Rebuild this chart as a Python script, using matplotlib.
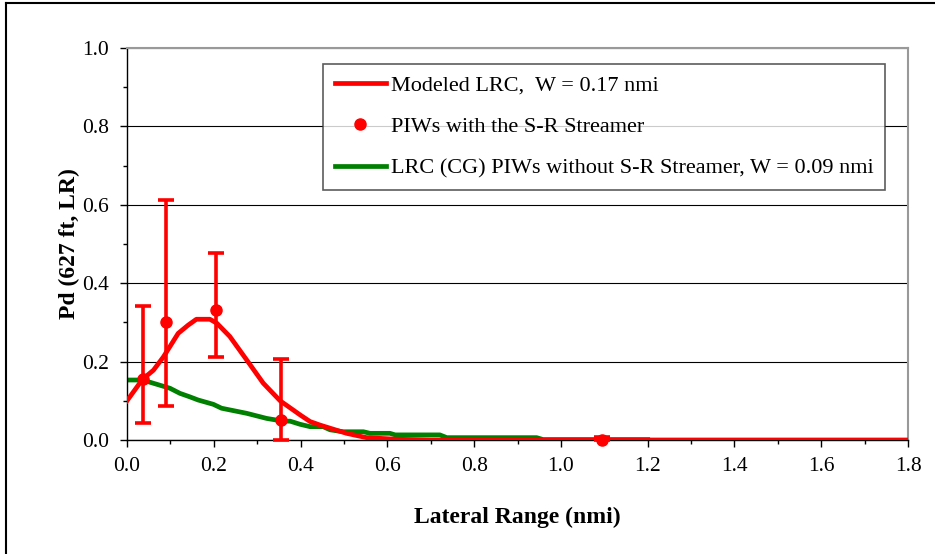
import numpy as np
import matplotlib.pyplot as plt
from matplotlib.lines import Line2D

plt.rcParams['font.family'] = ['Liberation Serif', 'DejaVu Serif']

# modeled lateral range curve (red)
model_x = [0.0, 0.036, 0.061, 0.084, 0.118, 0.141, 0.16, 0.191, 0.207, 0.237, 0.276,
           0.314, 0.353, 0.399, 0.422, 0.445, 0.506, 0.552, 0.62, 0.70, 1.8]
model_y = [0.10, 0.155, 0.178, 0.212, 0.272, 0.293, 0.308, 0.308, 0.298, 0.264, 0.204,
           0.145, 0.10, 0.064, 0.047, 0.038, 0.017, 0.006, 0.002, 0.0, 0.0]

# LRC (CG) without streamer (green)
cg_x = [0.0, 0.036, 0.099, 0.122, 0.145, 0.164, 0.199, 0.218, 0.276, 0.322, 0.36, 0.376,
        0.399, 0.422, 0.452, 0.468, 0.498, 0.545, 0.56, 0.606, 0.618, 0.721, 0.737,
        0.944, 0.959, 1.2]
cg_y = [0.153, 0.153, 0.132, 0.119, 0.11, 0.102, 0.091, 0.081, 0.068, 0.055, 0.048, 0.048,
        0.04, 0.034, 0.034, 0.026, 0.021, 0.021, 0.017, 0.017, 0.013, 0.013, 0.006,
        0.006, 0.001, 0.001]

# observed PIWs with streamer
obs_x = [0.036, 0.091, 0.205, 0.354, 1.094]
obs_y = [0.155, 0.30, 0.332, 0.051, 0.0]
obs_lo = [0.044, 0.087, 0.211, 0.0, 0.0]
obs_hi = [0.343, 0.612, 0.478, 0.206, 0.008]

fig = plt.figure(figsize=(9.35, 5.54), dpi=100)
ax = fig.add_axes([0.1358, 0.2058, 0.8354, 0.7076])

ax.plot(model_x, model_y, color='#ff0000', lw=3.4, solid_joinstyle='round', zorder=3)
ax.plot(cg_x, cg_y, color='#008000', lw=3.4, zorder=2)
yerr = [np.array(obs_y) - np.array(obs_lo), np.array(obs_hi) - np.array(obs_y)]
ax.errorbar(obs_x, obs_y, yerr=yerr, fmt='o', color='#ff0000', ms=8,
            elinewidth=2.6, capsize=6, capthick=2.6, zorder=4, clip_on=False)

ax.set_xlim(0, 1.8)
ax.set_ylim(0, 1.0)
ax.set_xticks(np.arange(0, 1.81, 0.2))
ax.set_xticks(np.arange(0, 1.81, 0.1), minor=True)
ax.set_yticks(np.arange(0, 1.01, 0.2))
ax.set_yticks(np.arange(0, 1.01, 0.1), minor=True)
ax.set_xticklabels(['%.1f' % v for v in np.arange(0, 1.81, 0.2)])
ax.set_yticklabels(['%.1f' % v for v in np.arange(0, 1.01, 0.2)])
ax.tick_params(axis='both', which='major', labelsize=15.5, length=5, width=1, direction='out')
ax.tick_params(axis='both', which='minor', length=3, width=1, direction='out')
ax.tick_params(axis='x', pad=7)
ax.tick_params(axis='y', pad=8)

ax.grid(axis='y', which='major', color='black', lw=0.8)
ax.set_axisbelow(True)
ax.spines['top'].set_color('#999999')
ax.spines['right'].set_color('#999999')
ax.spines['top'].set_linewidth(1.5)
ax.spines['right'].set_linewidth(1.5)
ax.spines['left'].set_linewidth(1)
ax.spines['bottom'].set_linewidth(1)

ax.set_xlabel('Lateral Range (nmi)', fontsize=17, fontweight='bold')
ax.set_ylabel('Pd (627 ft, LR)', fontsize=17, fontweight='bold')
ax.xaxis.set_label_coords(0.4994, -0.17)
ax.yaxis.set_label_coords(-0.06, 0.5)

handles = [Line2D([], [], color='#ff0000', lw=3.4),
           Line2D([], [], color='#ff0000', marker='o', ls='none', ms=8),
           Line2D([], [], color='#008000', lw=3.4)]
labels = ['Modeled LRC,  W = 0.17 nmi', 'PIWs with the S-R Streamer',
          'LRC (CG) PIWs without S-R Streamer, W = 0.09 nmi']
leg = ax.legend(handles, labels, loc='upper left', bbox_to_anchor=(0.2516, 0.96),
                fontsize=16, frameon=True, fancybox=False, edgecolor='#333333',
                handlelength=2.3, handletextpad=0.25, labelspacing=0.95,
                borderpad=0.5, borderaxespad=0)
leg.get_frame().set_linewidth(1.2)

# outer frame line on top and left
fig.add_artist(Line2D([0.0065, 1.0], [0.994, 0.994], color='black', lw=1.5))
fig.add_artist(Line2D([0.0065, 0.0065], [0.0, 0.994], color='black', lw=1.5))

fig.savefig('out.png', dpi=100)
